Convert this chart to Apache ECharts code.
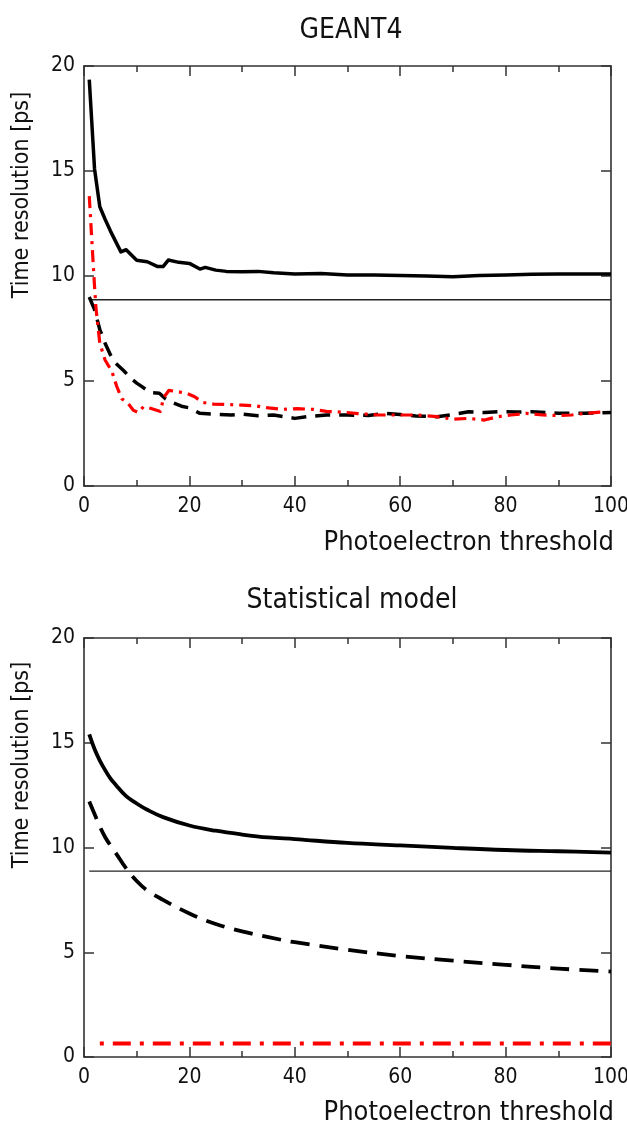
<!DOCTYPE html>
<html>
<head>
<meta charset="utf-8">
<script src="https://cdn.jsdelivr.net/npm/echarts@6/dist/echarts.min.js"></script>
<style>
html,body{margin:0;padding:0;background:#fff;overflow:hidden;}
#chart{width:627px;height:1126px;}
</style>
</head>
<body>
<div id="chart"></div>
<script>
// ---- tick values ----
const xTicksMin = 0, xTicksMax = 100, xTickStep = 20;
const yTicksMin = 0, yTicksMax = 20, yTickStep = 5;

// ---- titles / labels ----
const panelTitles = ['GEANT4', 'Statistical model'];
const xAxisName = 'Photoelectron threshold';
const yAxisName = 'Time resolution [ps]';

// ---- reference horizontal line (both panels) ----
const refLine = [[1, 8.87], [100, 8.87]];

// ---- GEANT4 panel ----
const g4Solid = [[1,19.35],[2,15.1],[3,13.3],[4,12.7],[5,12.15],[6,11.65],[7,11.15],[8,11.25],[9,11.0],[10,10.75],[12,10.68],[14,10.45],[15,10.45],[16,10.76],[18,10.65],[20,10.6],[22,10.33],[23,10.41],[25,10.28],[27,10.22],[30,10.2],[33,10.22],[36,10.15],[40,10.1],[45,10.12],[50,10.05],[55,10.05],[60,10.02],[65,10.0],[70,9.97],[75,10.02],[80,10.05],[85,10.08],[90,10.1],[95,10.1],[100,10.1]];
const g4Dashed = [[1,9.0],[2,8.4],[3,7.45],[4,6.8],[5,6.25],[6,5.85],[7.5,5.5],[9,5.1],[10,4.9],[11,4.73],[12.6,4.45],[14.3,4.42],[15.5,4.15],[17,3.95],[18.5,3.8],[20,3.72],[22,3.46],[25,3.42],[28,3.38],[30,3.42],[33,3.35],[36,3.38],[40,3.22],[43,3.32],[46,3.38],[50,3.38],[54,3.36],[57,3.46],[60,3.4],[63,3.33],[67,3.3],[70,3.4],[73,3.54],[76,3.5],[79,3.54],[82,3.52],[85,3.54],[88,3.5],[90,3.46],[95,3.46],[100,3.5]];
const g4Red = [[1,13.8],[2,9.5],[2.3,8.4],[3,6.8],[4,6.0],[5.3,5.45],[6.2,4.75],[7.2,4.15],[8.3,3.95],[9.4,3.6],[10.3,3.5],[11.3,3.78],[12.6,3.7],[14.5,3.55],[15.1,4.2],[16.1,4.55],[17.6,4.5],[19.6,4.4],[21,4.25],[22.5,3.98],[24.6,3.9],[27.5,3.88],[30,3.85],[32.5,3.82],[35,3.72],[37.5,3.65],[40.5,3.68],[43.5,3.65],[46,3.55],[49,3.52],[52,3.45],[56,3.38],[60,3.38],[63.5,3.38],[67,3.3],[70,3.18],[73,3.22],[76,3.14],[78.5,3.3],[81,3.38],[84,3.46],[87,3.38],[90,3.36],[92.5,3.38],[95,3.46],[98,3.52]];

// ---- Statistical model panel ----
const statX = [1,2,3,4,5,6,8,10,12,15,20,25,30,35,40,50,60,70,80,90,100];
const statSolid = [15.4,14.7,14.15,13.7,13.3,13.0,12.45,12.1,11.8,11.45,11.05,10.8,10.62,10.48,10.4,10.22,10.1,9.98,9.88,9.82,9.76];
const statDashed = [12.2,11.6,11.0,10.5,10.1,9.75,9.0,8.4,7.95,7.5,6.85,6.35,6.0,5.72,5.48,5.12,4.82,4.6,4.4,4.22,4.08];
const statRedX = [3, 100];
const statRed = [0.65, 0.65];

const FONT = '"DejaVu Sans Condensed", "DejaVu Sans"';
const AXIS_COLOR = '#333';
const zip = (xs, ys) => xs.map((x, i) => [x, ys[i]]);

const grids = [
  {left: 84, right: 16, top: 66, height: 420, containLabel: false, outerBoundsMode: 'none'},
  {left: 84, right: 16, top: 638, height: 419, containLabel: false, outerBoundsMode: 'none'}
];

function xAxes(gi) {
  const base = {
    gridIndex: gi, type: 'value', min: xTicksMin, max: xTicksMax, interval: xTickStep,
    axisLine: {show: true, onZero: false, lineStyle: {color: AXIS_COLOR, width: 1.6}},
    axisTick: {show: true, inside: true, length: 10, lineStyle: {color: AXIS_COLOR, width: 1.5}},
    minorTick: {show: true, splitNumber: 2, length: 6, lineStyle: {color: AXIS_COLOR, width: 1.5}},
    splitLine: {show: false}
  };
  return [
    Object.assign({}, base, {position: 'bottom',
      axisLabel: {show: true, fontFamily: FONT, fontSize: 21, color: '#111', margin: 10}}),
    Object.assign({}, base, {position: 'top', axisLabel: {show: false}})
  ];
}
function yAxes(gi) {
  const base = {
    gridIndex: gi, type: 'value', min: yTicksMin, max: yTicksMax, interval: yTickStep,
    axisLine: {show: true, onZero: false, lineStyle: {color: AXIS_COLOR, width: 1.6}},
    axisTick: {show: true, inside: true, length: 10, lineStyle: {color: AXIS_COLOR, width: 1.5}},
    splitLine: {show: false}
  };
  return [
    Object.assign({}, base, {position: 'left',
      axisLabel: {show: true, fontFamily: FONT, fontSize: 21, color: '#111', margin: 9}}),
    Object.assign({}, base, {position: 'right', axisLabel: {show: false}})
  ];
}

function line(xi, yi, data, color, width, type, z) {
  return {type: 'line', xAxisIndex: xi, yAxisIndex: yi, data: data, symbol: 'none',
    showSymbol: false, silent: true, z: z || 2,
    lineStyle: {color: color, width: width, type: type, cap: 'butt', join: 'round'}};
}

const chart = echarts.init(document.getElementById('chart'), null, {renderer: 'canvas', width: 627, height: 1126});
chart.setOption({
  animation: false,
  backgroundColor: '#fff',
  title: [
    {text: panelTitles[0], left: 346, top: 12, textAlign: 'center',
      textStyle: {fontFamily: FONT, fontSize: 28, fontWeight: 'normal', color: '#111'}},
    {text: panelTitles[1], left: 347, top: 582, textAlign: 'center',
      textStyle: {fontFamily: FONT, fontSize: 28, fontWeight: 'normal', color: '#111'}}
  ],
  grid: grids,
  xAxis: [].concat(xAxes(0), xAxes(1)),
  yAxis: [].concat(yAxes(0), yAxes(1)),
  graphic: [
    {type: 'text', x: 22, y: 195, rotation: Math.PI / 2,
      style: {text: yAxisName, font: '23px ' + FONT, fill: '#111', align: 'center', verticalAlign: 'middle'}},
    {type: 'text', x: 22, y: 765, rotation: Math.PI / 2,
      style: {text: yAxisName, font: '23px ' + FONT, fill: '#111', align: 'center', verticalAlign: 'middle'}},
    {type: 'text', x: 614, y: 543,
      style: {text: xAxisName, font: '27px ' + FONT, fill: '#111', align: 'right', verticalAlign: 'middle'}},
    {type: 'text', x: 614, y: 1113,
      style: {text: xAxisName, font: '27px ' + FONT, fill: '#111', align: 'right', verticalAlign: 'middle'}}
  ],
  series: [
    line(0, 0, refLine, '#222', 1.3, 'solid', 1),
    line(0, 0, g4Solid, '#000', 3.5, 'solid', 3),
    line(0, 0, g4Dashed, '#000', 3.5, [15, 9], 3),
    line(0, 0, g4Red, '#f00', 3.2, [12, 6, 3, 6], 4),
    line(2, 2, refLine, '#222', 1.3, 'solid', 1),
    Object.assign(line(2, 2, zip(statX, statSolid), '#000', 3.8, 'solid', 3), {smooth: 0.4}),
    Object.assign(line(2, 2, zip(statX, statDashed), '#000', 3.8, [19, 10], 3), {smooth: 0.4}),
    line(2, 2, zip(statRedX, statRed), '#f00', 4, [4, 9, 18, 9], 4)
  ]
});
</script>
</body>
</html>
